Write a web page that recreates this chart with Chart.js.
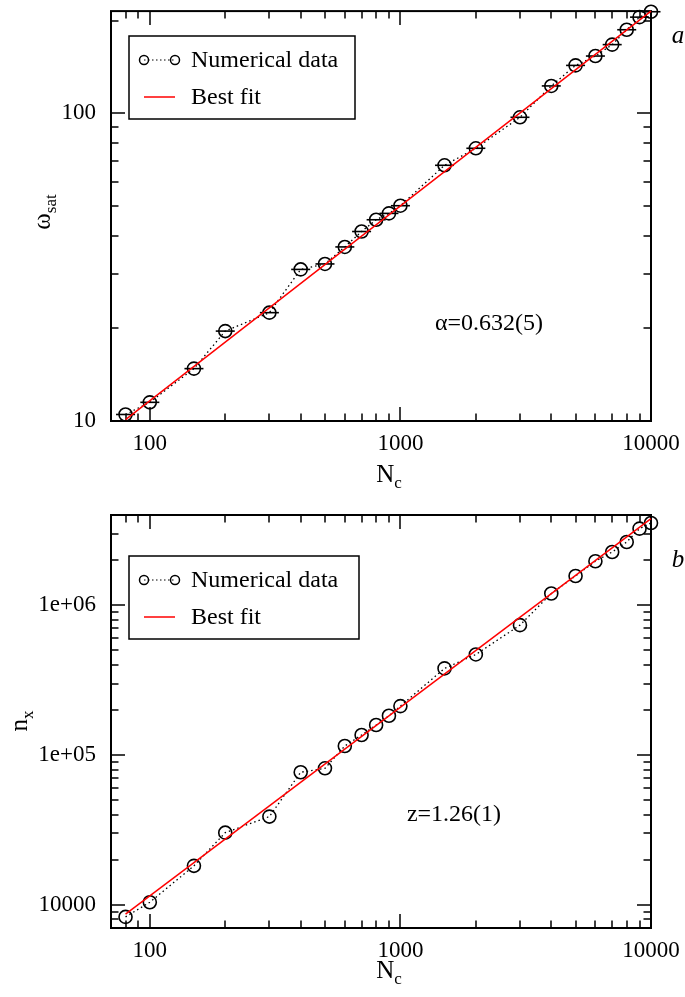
<!DOCTYPE html>
<html>
<head>
<meta charset="utf-8">
<script src="https://cdn.jsdelivr.net/npm/chart.js@4/dist/chart.umd.min.js"></script>
<style>
  html, body { margin:0; padding:0; background:#fff; }
  #wrap { position:relative; width:685px; height:997px; }
  canvas { position:absolute; left:0; }
</style>
</head>
<body>
<div id="wrap">
  <canvas id="c1" width="685" height="490" style="top:0"></canvas>
  <canvas id="c2" width="685" height="507" style="top:490px"></canvas>
</div>
<script>
// ---------------- data ----------------
const Nc = [80,100,150,200,300,400,500,600,700,800,900,1000,1500,2000,3000,4000,5000,6000,7000,8000,9000,10000];
const omegaSat = [10.5,11.5,14.8,19.6,22.5,31.1,32.4,36.8,41.3,45.1,47.3,50.1,67.8,77.0,97.1,122.8,143.2,153.6,167.3,187.0,205.5,214];
const nX = [8300,10400,18200,30300,38800,76700,81500,114800,136000,158500,182800,212000,378500,469000,736000,1197000,1567000,1965000,2266000,2642000,3243000,3538000];
const fitNc = [80, 10000];
const fitOmega = [10.1, 215];
const fitN = [8670, 3780000];

const xMajorTicks = [100, 1000, 10000];
const xTickLabels = ['100', '1000', '10000'];
const omegaMajorTicks = [10, 100];
const omegaTickLabels = ['10', '100'];
const nMajorTicks = [10000, 100000, 1000000];
const nTickLabels = ['10000', '1e+05', '1e+06'];

const legendLabels = ['Numerical data', 'Best fit'];
const panelLetters = ['a', 'b'];
const fitTexts = ['\u03b1=0.632(5)', 'z=1.26(1)'];

// --------------- helpers ---------------
const FONT = '"Liberation Serif", "Times New Roman", serif';
Chart.defaults.font.family = FONT;
Chart.defaults.font.size = 23;
Chart.defaults.color = '#000';

function logTicks(min, max) {
  const out = [];
  for (let e = Math.floor(Math.log10(min)); e <= Math.ceil(Math.log10(max)); e++) {
    for (let m = 1; m <= 9; m++) {
      const v = m * Math.pow(10, e);
      if (v >= min * 0.999 && v <= max * 1.001) out.push(v);
    }
  }
  return out;
}
function pts(xs, ys) { return xs.map((x, i) => ({x: x, y: ys[i]})); }

const framePlugin = {
  id: 'frame',
  beforeDatasetsDraw(chart) {
    const {ctx, chartArea: a, scales: {x, y}} = chart;
    const o = chart.options.plugins.frame;
    ctx.save();
    ctx.strokeStyle = '#000';
    ctx.lineWidth = 1.5;
    ctx.beginPath();
    x.ticks.forEach(t => {
      const px = Math.round(x.getPixelForValue(t.value));
      if (px <= a.left + 1 || px >= a.right - 1) return;
      const L = o.xMajor.includes(t.value) ? 14 : 7.5;
      ctx.moveTo(px, a.bottom); ctx.lineTo(px, a.bottom - L);
      ctx.moveTo(px, a.top); ctx.lineTo(px, a.top + L);
    });
    y.ticks.forEach(t => {
      const py = Math.round(y.getPixelForValue(t.value));
      if (py <= a.top + 1 || py >= a.bottom - 1) return;
      const L = o.yMajor.includes(t.value) ? 14 : 7.5;
      ctx.moveTo(a.left, py); ctx.lineTo(a.left + L, py);
      ctx.moveTo(a.right, py); ctx.lineTo(a.right - L, py);
    });
    ctx.stroke();
    ctx.lineWidth = 2;
    ctx.strokeRect(a.left, a.top, a.width, a.height);
    ctx.restore();
  },
  afterDraw(chart) {
    const {ctx} = chart;
    const o = chart.options.plugins.frame;
    ctx.save();
    // legend
    const L = o.legend;
    ctx.fillStyle = '#fff';
    ctx.fillRect(L.x, L.y, L.w, L.h);
    ctx.strokeStyle = '#000';
    ctx.lineWidth = 1.5;
    ctx.strokeRect(L.x, L.y, L.w, L.h);
    const dsData = chart.data.datasets.find(d => d.label === legendLabels[0]);
    const dsFit = chart.data.datasets.find(d => d.label === legendLabels[1]);
    const y1 = L.y + L.row1, y2 = L.y + L.row2;
    const xa = L.x + 15, xb = L.x + 46;
    ctx.lineWidth = 1.2;
    ctx.setLineDash([1.5, 2.5]);
    ctx.beginPath(); ctx.moveTo(xa, y1); ctx.lineTo(xb, y1); ctx.stroke();
    ctx.setLineDash([]);
    ctx.lineWidth = 1.5;
    [xa, xb].forEach(cx => { ctx.beginPath(); ctx.arc(cx, y1, 4.5, 0, Math.PI * 2); ctx.stroke(); });
    ctx.strokeStyle = dsFit.borderColor;
    ctx.lineWidth = 1.5;
    ctx.beginPath(); ctx.moveTo(xa, y2); ctx.lineTo(xb, y2); ctx.stroke();
    ctx.fillStyle = '#000';
    ctx.font = '24px ' + FONT;
    ctx.textBaseline = 'middle';
    ctx.textAlign = 'left';
    ctx.fillText(dsData.label, L.x + 62, y1 + 1);
    ctx.fillText(dsFit.label, L.x + 62, y2 + 1);
    // fit annotation
    ctx.textAlign = 'center';
    ctx.fillText(o.note.text, o.note.x, o.note.y);
    // panel letter
    ctx.font = 'italic 25px ' + FONT;
    ctx.fillText(o.letter.text, o.letter.x, o.letter.y);
    // x title N_c
    ctx.textBaseline = 'alphabetic';
    ctx.textAlign = 'left';
    const xt = o.xTitle;
    ctx.font = '25px ' + FONT;
    const wN = ctx.measureText(xt.main).width;
    ctx.font = '17px ' + FONT;
    const wc = ctx.measureText(xt.sub).width;
    let sx = xt.x - (wN + wc) / 2;
    ctx.font = '25px ' + FONT;
    ctx.fillText(xt.main, sx, xt.y);
    ctx.font = '17px ' + FONT;
    ctx.fillText(xt.sub, sx + wN, xt.y + 6);
    // y title (rotated)
    const yt = o.yTitle;
    ctx.translate(yt.x, yt.y);
    ctx.rotate(-Math.PI / 2);
    ctx.font = '25px ' + FONT;
    const wm = ctx.measureText(yt.main).width;
    ctx.font = '17px ' + FONT;
    const ws = ctx.measureText(yt.sub).width;
    sx = -(wm + ws) / 2;
    ctx.font = '25px ' + FONT;
    ctx.fillText(yt.main, sx, 0);
    ctx.font = '17px ' + FONT;
    ctx.fillText(yt.sub, sx + wm, 6);
    ctx.restore();
  }
};

function makeChart(id, cfg) {
  const datasets = [
    {
      label: legendLabels[1],
      data: pts(fitNc, cfg.fitY),
      borderColor: '#ff0000', borderWidth: 1.5,
      pointRadius: 0, fill: false, clip: false
    },
    {
      label: legendLabels[0],
      data: pts(Nc, cfg.ys),
      borderColor: '#000', borderWidth: 1.3, borderDash: [1.5, 3],
      pointRadius: 6.5, pointBorderWidth: 1.6, pointStyle: 'circle',
      pointBackgroundColor: 'rgba(0,0,0,0)', pointBorderColor: '#000',
      fill: false, clip: false
    }
  ];
  if (cfg.bars) {
    datasets.push({
      label: 'bars',
      data: pts(Nc, cfg.ys),
      showLine: false, pointStyle: 'line', pointRadius: 9.5,
      pointBorderWidth: 1.6, pointBorderColor: '#000', borderColor: '#000',
      clip: false
    });
  }
  const xMin = 70, xMax = 10000;
  return new Chart(document.getElementById(id), {
    type: 'line',
    data: { datasets },
    options: {
      responsive: false, animation: false, devicePixelRatio: 1,
      layout: { padding: { top: cfg.top, right: 34, left: 0, bottom: 0 } },
      plugins: {
        legend: { display: false }, tooltip: { enabled: false },
        frame: {
          xMajor: xMajorTicks, yMajor: cfg.yMajor,
          legend: cfg.legend, note: cfg.note, letter: cfg.letter,
          xTitle: cfg.xTitle, yTitle: cfg.yTitle
        }
      },
      scales: {
        x: {
          type: 'logarithmic', min: xMin, max: xMax,
          grid: { display: false }, border: { display: false },
          afterBuildTicks: s => { s.ticks = logTicks(xMin, xMax).map(v => ({value: v})); },
          afterFit: s => { s.height = cfg.xHeight; s.paddingLeft = 0; s.paddingRight = 0; },
          ticks: {
            autoSkip: false, maxRotation: 0, padding: 1,
            callback: v => { const i = xMajorTicks.indexOf(v); return i >= 0 ? xTickLabels[i] : ''; }
          }
        },
        y: {
          type: 'logarithmic', min: cfg.yMin, max: cfg.yMax,
          grid: { display: false }, border: { display: false },
          afterBuildTicks: s => { s.ticks = logTicks(cfg.yMin, cfg.yMax).map(v => ({value: v})); },
          afterFit: s => { s.width = 111; s.paddingTop = 0; s.paddingBottom = 0; },
          ticks: {
            autoSkip: false, padding: 7,
            callback: v => { const i = cfg.yMajor.indexOf(v); return i >= 0 ? cfg.yLabels[i] : ''; }
          }
        }
      }
    },
    plugins: [framePlugin]
  });
}

makeChart('c1', {
  ys: omegaSat, fitY: fitOmega, bars: true,
  yMin: 10, yMax: 215, yMajor: omegaMajorTicks, yLabels: omegaTickLabels,
  top: 8, xHeight: 69,
  legend: { x: 129, y: 36, w: 226, h: 83, row1: 24, row2: 61 },
  note: { text: fitTexts[0], x: 489, y: 324 },
  letter: { text: panelLetters[0], x: 678, y: 36 },
  xTitle: { main: 'N', sub: 'c', x: 389, y: 482 },
  yTitle: { main: '\u03c9', sub: 'sat', x: 50, y: 212 }
});

makeChart('c2', {
  ys: nX, fitY: fitN, bars: false,
  yMin: 7000, yMax: 4000000, yMajor: nMajorTicks, yLabels: nTickLabels,
  top: 25, xHeight: 69,
  legend: { x: 129, y: 66, w: 230, h: 83, row1: 24, row2: 61 },
  note: { text: fitTexts[1], x: 454, y: 325 },
  letter: { text: panelLetters[1], x: 678, y: 70 },
  xTitle: { main: 'N', sub: 'c', x: 389, y: 488 },
  yTitle: { main: 'n', sub: 'x', x: 27, y: 231 }
});
</script>
</body>
</html>
